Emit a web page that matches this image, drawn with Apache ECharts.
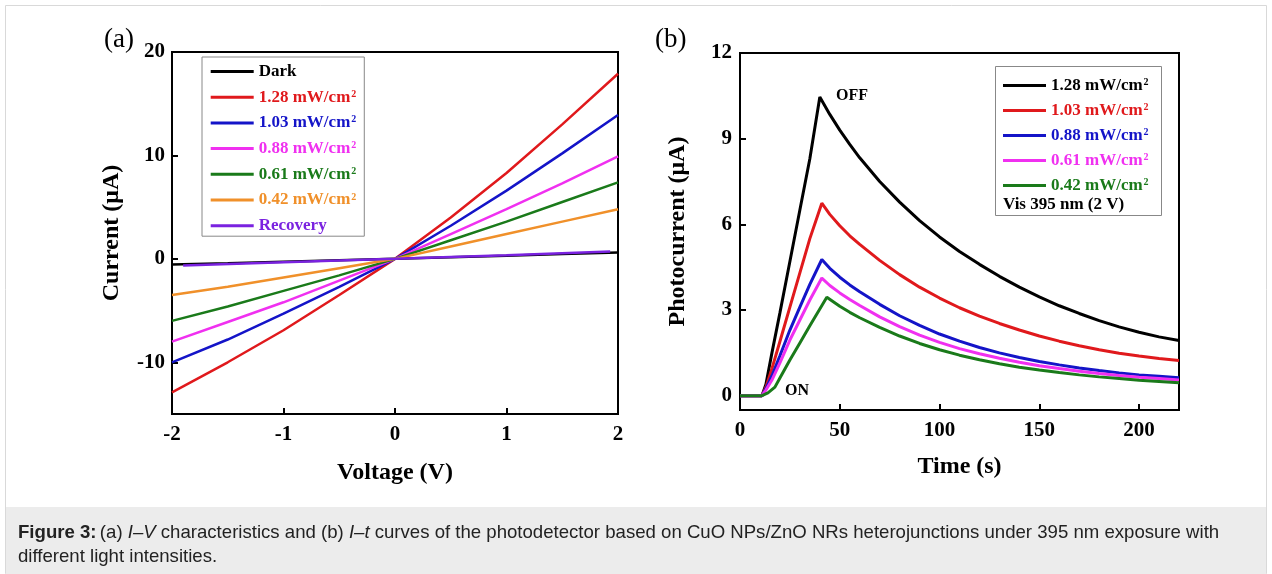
<!DOCTYPE html>
<html><head><meta charset="utf-8">
<script src="https://cdn.jsdelivr.net/npm/echarts@6/dist/echarts.min.js"></script>
<style>html,body{margin:0;padding:0;background:#fff}#c{width:1272px;height:574px}</style>
</head><body><div id="c"></div>
<script>
// ---------- Panel (a): I–V ----------
const ivVoltage = [-2, -1.5, -1, -0.5, 0, 0.5, 1, 1.5, 2];
const ivDark = [-0.55, -0.42, -0.28, -0.14, 0, 0.15, 0.3, 0.46, 0.62];
const iv128 = [-12.9, -10.0, -6.9, -3.5, 0, 4.0, 8.3, 13.0, 17.9];
const iv103 = [-10.0, -7.8, -5.3, -2.7, 0, 3.2, 6.6, 10.2, 13.9];
const iv088 = [-8.0, -6.1, -4.2, -2.1, 0, 2.4, 4.8, 7.3, 9.9];
const iv061 = [-6.0, -4.6, -3.1, -1.6, 0, 1.8, 3.6, 5.5, 7.4];
const iv042 = [-3.5, -2.7, -1.8, -0.9, 0, 1.2, 2.4, 3.6, 4.8];
const recVoltage = [-1.9, -1, 0, 1, 1.93];
const recCurrent = [-0.65, -0.33, 0, 0.36, 0.72];
const ivNames = ['Dark', '1.28 mW/cm2', '1.03 mW/cm2', '0.88 mW/cm2', '0.61 mW/cm2', '0.42 mW/cm2', 'Recovery'];
const ivColors = ['#000000', '#e0191c', '#1414c8', '#f030f0', '#1a7a1a', '#f0902a', '#7a22e0'];
const ivYTicks = [-10, 0, 10, 20];

// ---------- Panel (b): I–t ----------
const t128 = [0, 11, 13, 16, 20, 25, 30, 35, 40, 45, 50, 55, 60, 70, 80, 90, 100, 110, 120, 130, 140, 150, 160, 170, 180, 190, 200, 210, 220];
const i128 = [0, 0, 0.4, 1.5, 2.9, 4.7, 6.5, 8.3, 10.46, 9.85, 9.3, 8.8, 8.33, 7.5, 6.78, 6.13, 5.56, 5.05, 4.6, 4.18, 3.8, 3.46, 3.15, 2.88, 2.63, 2.41, 2.22, 2.06, 1.93];
const t103 = [0, 11, 13, 16, 20, 25, 30, 35, 41, 45, 50, 55, 60, 70, 80, 90, 100, 110, 120, 130, 140, 150, 160, 170, 180, 190, 200, 210, 220];
const i103 = [0, 0, 0.3, 0.95, 1.9, 3.1, 4.3, 5.5, 6.74, 6.35, 5.95, 5.6, 5.3, 4.74, 4.24, 3.8, 3.42, 3.08, 2.79, 2.53, 2.3, 2.09, 1.91, 1.75, 1.61, 1.49, 1.39, 1.3, 1.23];
const i088 = [0, 0, 0.25, 0.7, 1.4, 2.3, 3.1, 3.9, 4.77, 4.46, 4.15, 3.88, 3.64, 3.2, 2.8, 2.46, 2.16, 1.91, 1.69, 1.5, 1.34, 1.2, 1.08, 0.97, 0.88, 0.8, 0.73, 0.68, 0.63];
const i061 = [0, 0, 0.2, 0.55, 1.15, 1.95, 2.65, 3.35, 4.12, 3.86, 3.6, 3.37, 3.16, 2.76, 2.42, 2.12, 1.87, 1.65, 1.47, 1.31, 1.17, 1.05, 0.95, 0.86, 0.78, 0.71, 0.65, 0.6, 0.55];
const t042 = [0, 11, 14, 17.5, 20, 25, 30, 35, 43.5, 50, 55, 60, 70, 80, 90, 100, 110, 120, 130, 140, 150, 160, 170, 180, 190, 200, 210, 220];
const i042 = [0, 0, 0.1, 0.3, 0.62, 1.25, 1.85, 2.45, 3.45, 3.13, 2.92, 2.73, 2.39, 2.09, 1.83, 1.61, 1.42, 1.26, 1.12, 1.0, 0.9, 0.81, 0.73, 0.66, 0.6, 0.54, 0.5, 0.45];
const itNames = ['1.28 mW/cm2 ', '1.03 mW/cm2 ', '0.88 mW/cm2 ', '0.61 mW/cm2 ', '0.42 mW/cm2 '];
const itColors = ['#000000', '#e0191c', '#1414c8', '#f030f0', '#1a7a1a'];
const itXTicks = [0, 50, 100, 150, 200];
const itYTicks = [0, 3, 6, 9, 12];

const SERIF = "'Liberation Serif', 'Times New Roman', serif";
const SANS = "'Liberation Sans', Arial, sans-serif";
const zip = (xs, ys) => xs.map((x, i) => [x, ys[i]]);

function legendLabel(name) {
  const n = name.trim();
  if (n.endsWith('cm2')) return '{v|' + n.slice(0, -1) + '}{s|2}';
  return '{v|' + n + '}';
}
const legendRich = {
  v: { fontFamily: SERIF, fontWeight: 'bold', fontSize: 17, lineHeight: 16 },
  s: { fontFamily: SERIF, fontWeight: 'bold', fontSize: 10, lineHeight: 10, verticalAlign: 'top', padding: [0, 0, 0, 1] }
};

const axisCommon = {
  axisLine: { show: true, onZero: false, lineStyle: { color: '#000', width: 2 } },
  axisTick: { show: true, inside: true, length: 6, lineStyle: { color: '#000', width: 2 } },
  splitLine: { show: false },
  nameLocation: 'middle',
  nameTextStyle: { fontFamily: SERIF, fontWeight: 'bold', fontSize: 24, color: '#000' }
};
const labelStyle = { fontFamily: SERIF, fontWeight: 'bold', fontSize: 21, color: '#000' };

const ivData = [ivDark, iv128, iv103, iv088, iv061, iv042];
const series = [];
ivData.forEach((d, i) => series.push({
  name: ivNames[i], type: 'line', xAxisIndex: 0, yAxisIndex: 0,
  data: zip(ivVoltage, d), showSymbol: false, symbol: 'none',
  lineStyle: { color: ivColors[i], width: 2.5 }, itemStyle: { color: ivColors[i] }
}));
series.push({
  name: ivNames[6], type: 'line', xAxisIndex: 0, yAxisIndex: 0,
  data: zip(recVoltage, recCurrent), showSymbol: false, symbol: 'none',
  lineStyle: { color: ivColors[6], width: 2.5 }, itemStyle: { color: ivColors[6] }
});
const itData = [zip(t128, i128), zip(t103, i103), zip(t103, i088), zip(t103, i061), zip(t042, i042)];
itData.forEach((d, i) => series.push({
  name: itNames[i], type: 'line', xAxisIndex: 1, yAxisIndex: 1,
  data: d, showSymbol: false, symbol: 'none',
  lineStyle: { color: itColors[i], width: 3 }, itemStyle: { color: itColors[i] }
}));

const option = {
  animation: false,
  backgroundColor: '#fff',
  grid: [
    { left: 172, top: 52, width: 446, height: 362, show: true, borderColor: '#000', borderWidth: 2, backgroundColor: 'transparent' },
    { left: 740, top: 53, width: 439, height: 357, show: true, borderColor: '#000', borderWidth: 2, backgroundColor: 'transparent' }
  ],
  xAxis: [
    Object.assign({}, axisCommon, {
      type: 'value', gridIndex: 0, min: -2, max: 2, interval: 1,
      name: 'Voltage (V)', nameGap: 47,
      axisLabel: Object.assign({ margin: 10 }, labelStyle)
    }),
    Object.assign({}, axisCommon, {
      type: 'value', gridIndex: 1, min: 0, max: 220,
      name: 'Time (s)', nameGap: 45,
      axisTick: Object.assign({}, axisCommon.axisTick, { customValues: itXTicks }),
      axisLabel: Object.assign({ margin: 10, customValues: itXTicks }, labelStyle)
    })
  ],
  yAxis: [
    Object.assign({}, axisCommon, {
      type: 'value', gridIndex: 0, min: -15, max: 20,
      name: 'Current (μA)', nameGap: 48,
      axisTick: Object.assign({}, axisCommon.axisTick, { customValues: ivYTicks }),
      axisLabel: Object.assign({ margin: 7, customValues: ivYTicks }, labelStyle)
    }),
    Object.assign({}, axisCommon, {
      type: 'value', gridIndex: 1, min: -0.5, max: 12,
      name: 'Photocurrent (μA)', nameGap: 50,
      axisTick: Object.assign({}, axisCommon.axisTick, { customValues: itYTicks }),
      axisLabel: Object.assign({ margin: 8, customValues: itYTicks }, labelStyle)
    })
  ],
  legend: [
    {
      data: ivNames.map((n, i) => ({ name: n, textStyle: { color: ivColors[i] } })),
      orient: 'vertical', left: 202, top: 57, icon: 'rect',
      itemWidth: 43, itemHeight: 3, itemGap: 8.7,
      padding: [6, 8, 2, 8.7], borderColor: '#888', borderWidth: 1, backgroundColor: '#fff',
      selectedMode: false, formatter: legendLabel,
      textStyle: { fontFamily: SERIF, fontWeight: 'bold', fontSize: 17, lineHeight: 16, rich: legendRich }
    },
    {
      data: itNames.map((n, i) => ({ name: n, textStyle: { color: itColors[i] } })),
      orient: 'vertical', left: 1003, top: 77, icon: 'rect',
      itemWidth: 43, itemHeight: 3, itemGap: 8, padding: 0,
      selectedMode: false, formatter: legendLabel,
      textStyle: { fontFamily: SERIF, fontWeight: 'bold', fontSize: 17, lineHeight: 16, rich: legendRich }
    }
  ],
  graphic: [
    { type: 'rect', silent: true, z: 0, shape: { x: 5.5, y: 5.5, width: 1261, height: 568 }, style: { fill: 'none', stroke: '#d9d9d9', lineWidth: 1 } },
    { type: 'rect', silent: true, z: 0, shape: { x: 6, y: 507, width: 1260, height: 67 }, style: { fill: '#ececec' } },
    { type: 'rect', silent: true, z: 3, shape: { x: 995.5, y: 66.5, width: 166, height: 149 }, style: { fill: 'none', stroke: '#888', lineWidth: 1 } },
    { type: 'text', silent: true, z: 5, left: 1003, top: 196, style: { text: 'Vis 395 nm (2 V)', fontFamily: SERIF, fontWeight: 'bold', fontSize: 17, fill: '#000' } },
    { type: 'text', silent: true, z: 5, left: 104, top: 26, style: { text: '(a)', fontFamily: SERIF, fontSize: 27, fill: '#000' } },
    { type: 'text', silent: true, z: 5, left: 655, top: 26, style: { text: '(b)', fontFamily: SERIF, fontSize: 27, fill: '#000' } },
    { type: 'text', silent: true, z: 5, left: 836, top: 88, style: { text: 'OFF', fontFamily: SERIF, fontWeight: 'bold', fontSize: 16, fill: '#000' } },
    { type: 'text', silent: true, z: 5, left: 785, top: 383, style: { text: 'ON', fontFamily: SERIF, fontWeight: 'bold', fontSize: 16, fill: '#000' } },
    { type: 'text', silent: true, z: 5, left: 18, top: 523, style: {
      text: '{b|Figure 3:} {n|(a) }{i|I–V}{n| characteristics and (b) }{i|I–t}{n| curves of the photodetector based on CuO NPs/ZnO NRs heterojunctions under 395 nm exposure with}',
      rich: {
        b: { fontFamily: SANS, fontSize: 18.6, fontWeight: 'bold', fill: '#222' },
        n: { fontFamily: SANS, fontSize: 18.6, fill: '#222' },
        i: { fontFamily: SANS, fontSize: 18.6, fontStyle: 'italic', fill: '#222' }
      } } },
    { type: 'text', silent: true, z: 5, left: 18, top: 547, style: { text: 'different light intensities.', fontFamily: SANS, fontSize: 18.6, fill: '#222' } }
  ],
  series: series
};
const chart = echarts.init(document.getElementById('c'), null, { renderer: 'canvas' });
chart.setOption(option);
</script>
</body></html>
